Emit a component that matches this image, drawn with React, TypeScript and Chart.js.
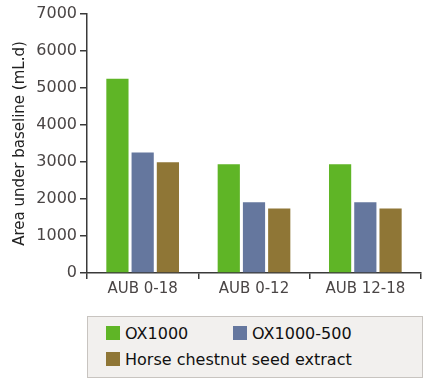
import React, { useEffect, useRef } from "react";
import { Chart, registerables } from "chart.js";

Chart.register(...registerables);

const categories = ["AUB 0-18", "AUB 0-12", "AUB 12-18"];
const ox1000 = [5250, 2940, 2940];
const ox1000_500 = [3260, 1910, 1910];
const horseChestnut = [2990, 1740, 1740];
const seriesNames = ["OX1000", "OX1000-500", "Horse chestnut seed extract"];
const seriesColors = ["#5fb526", "#65779e", "#8f7636"];
const yTitle = "Area under baseline (mL.d)";

const FONT = "'DejaVu Sans', sans-serif";

export default function App() {
  const ref = useRef<HTMLCanvasElement | null>(null);
  useEffect(() => {
    if (!ref.current) return;
    const chart = new Chart(ref.current, {
      type: "bar",
      data: {
        labels: categories,
        datasets: [ox1000, ox1000_500, horseChestnut].map((d, i) => ({
          label: seriesNames[i],
          data: d,
          backgroundColor: seriesColors[i],
          barPercentage: 0.88,
          categoryPercentage: 0.68,
        })),
      },
      options: {
        animation: false,
        responsive: false,
        maintainAspectRatio: false,
        layout: { padding: { left: 0, top: 14, right: 13, bottom: 0 } },
        plugins: { legend: { display: false }, tooltip: { enabled: false } },
        scales: {
          x: {
            border: { color: "#3a3a3a", width: 1.5 },
            grid: { drawOnChartArea: false, drawTicks: true, tickLength: 6, color: "#3a3a3a", lineWidth: 1.5 },
            ticks: { color: "#4a4545", font: { family: FONT, size: 15 }, padding: 1 },
            afterFit: (s: any) => { s.height = 27; },
          },
          y: {
            min: 0,
            max: 7000,
            border: { color: "#3a3a3a", width: 1.5 },
            grid: { drawOnChartArea: false, drawTicks: true, tickLength: 7, color: "#3a3a3a", lineWidth: 1.5 },
            ticks: {
              stepSize: 1000,
              color: "#4a4545",
              font: { family: FONT, size: 16 },
              padding: 3,
              callback: (v: any) => String(v),
            },
            title: { display: true, text: yTitle, color: "#222", font: { family: FONT, size: 15 }, padding: { top: 11, bottom: 0 } },
            afterFit: (s: any) => { s.width = 87; },
          },
        },
      },
    });
    return () => chart.destroy();
  }, []);

  const item = (i: number, left: number, top: number) => (
    <div style={{ position: "absolute", left, top, display: "flex", alignItems: "center", height: 14 }}>
      <div style={{ width: 14, height: 14, background: seriesColors[i], marginRight: 5 }} />
      <span style={{ fontSize: 16, color: "#111", whiteSpace: "nowrap" }}>{seriesNames[i]}</span>
    </div>
  );

  return (
    <div style={{ position: "fixed", left: 0, top: 0, width: 434, height: 391, background: "#fff", fontFamily: FONT }}>
      <canvas ref={ref} width={434} height={300} style={{ position: "absolute", left: 0, top: 0 }} />
      <div style={{ position: "absolute", left: 87, top: 316, width: 334, height: 60, background: "#f2f0ee", border: "1px solid #c8c4c0" }}>
        {item(0, 18, 9)}
        {item(1, 145, 9)}
        {item(2, 18, 35)}
      </div>
    </div>
  );
}
